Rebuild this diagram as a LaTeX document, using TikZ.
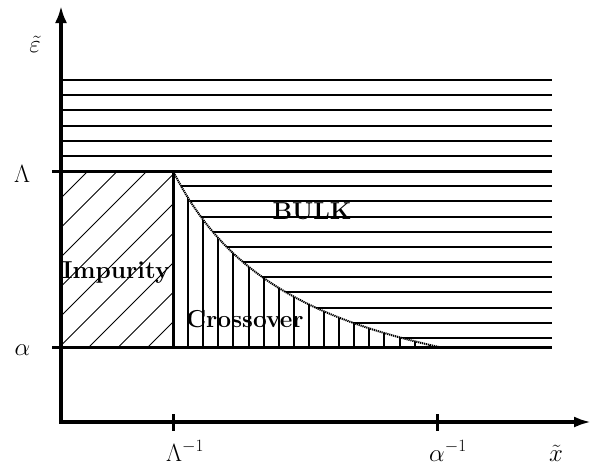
\documentclass[tikz,border=0pt]{standalone}
\usetikzlibrary{arrows.meta}
\begin{document}
\begin{tikzpicture}[x=1pt,y=-1pt,
  lbl/.style={inner sep=0pt,font=\fontsize{24}{28}\selectfont},
  region/.style={inner sep=0pt,font=\fontsize{24.5}{28}\selectfont\bfseries},
  gridline/.style={line width=2pt},
  boldline/.style={line width=3pt},
  hatchline/.style={line width=0.8pt},
  axisline/.style={line width=3.2pt},
  curveline/.style={line width=2pt,dash pattern=on 1.2pt off 0.8pt}]
\useasboundingbox (0,0) rectangle (605,464);
% diagonal hatching (impurity)
\begin{scope}
  \clip (61,171) rectangle (173,347);
  \foreach \k in {0,...,9}{
    \draw[hatchline] ({259+29.5*\k-100},100) -- ({259+29.5*\k-400},400);
  }
\end{scope}
% horizontal lines above Lambda
\foreach \k in {0,...,5}{
  \draw[gridline] (61,{80+15.17*\k}) -- (552,{80+15.17*\k});
}
% horizontal lines in bulk below Lambda, clipped by the curve
\begin{scope}
  \clip (50,171) -- (173,171) -- plot[domain=173:442,samples=60] (\x,{435-351.12/((\x-40)/100)}) -- (560,347) -- (560,171) -- cycle;
  \foreach \k in {7,...,17}{
    \draw[gridline] (61,{80+15.17*\k}) -- (552,{80+15.17*\k});
  }
\end{scope}
% vertical lines in crossover, clipped by the curve
\begin{scope}
  \clip (173,347) -- plot[domain=173:442,samples=60] (\x,{435-351.12/((\x-40)/100)}) -- cycle;
  \foreach \k in {1,...,17}{
    \draw[gridline] ({173+15.1*\k},347) -- ({173+15.1*\k},171);
  }
\end{scope}
% boundary lines
\draw[boldline] (52,171) -- (552,171);
\draw[boldline] (52,347) -- (552,347);
\draw[boldline] (173,171) -- (173,347);
% curve
\draw[curveline] plot[domain=173:442,samples=60] (\x,{435-351.12/((\x-40)/100)});
% axes
\coordinate (O) at (61,422);
\coordinate (ytip) at (61,6);
\coordinate (xtip) at (591,422);
\draw[axisline,-{Latex[length=17pt,width=12pt]}] (61,423.6) -- (ytip);
\draw[axisline,-{Latex[length=17pt,width=11pt]}] (59.4,422) -- (xtip);
\draw[boldline] (173,414) -- (173,431);
\draw[boldline] (437,414) -- (437,431);
% labels
\node[lbl,anchor=base] (eps) at (35,52) {$\tilde\varepsilon$};
\node[lbl,anchor=base] (L) at (22,182) {$\Lambda$};
\node[lbl,anchor=base] (a) at (22.5,355) {$\alpha$};
\node[lbl,anchor=base west] (Linv) at (166,461) {$\Lambda^{-1}$};
\node[lbl,anchor=base west] (ainv) at (429,461) {$\alpha^{-1}$};
\node[lbl,anchor=base] (xt) at (556,461) {$\tilde x$};
\node[region,anchor=base] (imp) at (116,278) {Impurity};
\node[region,anchor=base] (bulk) at (312,219) {BULK};
\node[region,anchor=base] (cross) at (245,327) {Crossover};
\end{tikzpicture}
\end{document}
